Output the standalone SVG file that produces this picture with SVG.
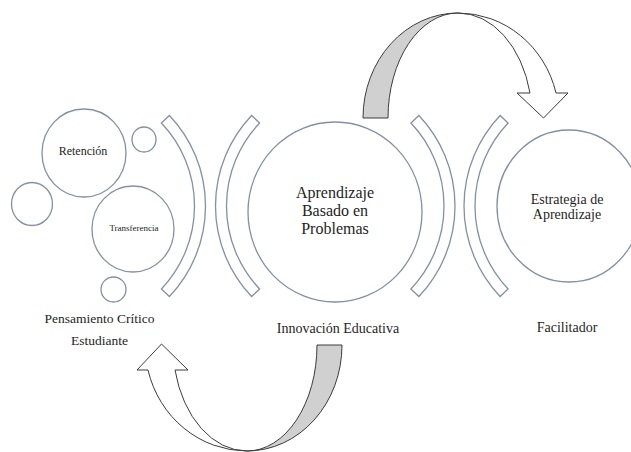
<svg xmlns="http://www.w3.org/2000/svg" width="631" height="452" viewBox="0 0 631 452">
<style>
.c{fill:#fff;stroke:#8390a3;stroke-width:1.3}
.b{fill:#fff;stroke:#8390a3;stroke-width:1.3;stroke-linejoin:miter}
text{font-family:'Liberation Serif','Times New Roman','DejaVu Serif',serif;fill:#1e1e1e;text-anchor:middle}
.aw{fill:#fff;stroke:#3c3c3c;stroke-width:1;stroke-linejoin:miter}
.ag{fill:#d0d0d0;stroke:#3c3c3c;stroke-width:1}
</style>
<rect width="631" height="452" fill="#fff"/>

<g id="brackets">
<path class="b" d="M169.39 115.48 A131.5 131.5 0 0 1 169.39 296.52 L161.41 288.95 A120.5 120.5 0 0 0 161.41 123.05 Z"/>
<path class="b" d="M251.61 115.48 A131.5 131.5 0 0 0 251.61 296.52 L259.59 288.95 A120.5 120.5 0 0 1 259.59 123.05 Z"/>
<path class="b" d="M418.89 115.48 A131.5 131.5 0 0 1 418.89 296.52 L410.91 288.95 A120.5 120.5 0 0 0 410.91 123.05 Z"/>
<path class="b" d="M500.11 115.48 A131.5 131.5 0 0 0 500.11 296.52 L508.09 288.95 A120.5 120.5 0 0 1 508.09 123.05 Z"/>
</g>

<g id="node-small1"><ellipse class="c" cx="144" cy="139.5" rx="12" ry="12.5"/></g>
<g id="node-small2"><ellipse class="c" cx="32" cy="204" rx="20.5" ry="21.5"/></g>
<g id="node-small3"><ellipse class="c" cx="113.5" cy="289.5" rx="12.5" ry="12.5"/></g>

<g id="node-retencion" font-family="Liberation Serif, serif">
<ellipse class="c" cx="84" cy="153" rx="42" ry="44"/>
<text x="83" y="155" font-size="12">Retención</text>
</g>

<g id="node-transferencia" font-family="Liberation Serif, serif">
<ellipse class="c" cx="133" cy="229" rx="41" ry="43"/>
<text x="134" y="231" font-size="9">Transferencia</text>
</g>

<g id="node-pensamiento" font-family="Liberation Serif, serif">
<text x="99.5" y="323" font-size="13.5">Pensamiento Crítico</text>
<text x="99.5" y="345" font-size="13.5">Estudiante</text>
</g>

<g id="node-abp" font-family="Liberation Serif, serif">
<ellipse class="c" cx="335" cy="212" rx="87" ry="90"/>
<text x="335" y="198" font-size="16">Aprendizaje</text>
<text x="335" y="216" font-size="16">Basado en</text>
<text x="335" y="234" font-size="16">Problemas</text>
</g>

<g id="node-innovacion" font-family="Liberation Serif, serif">
<text x="338" y="333" font-size="14">Innovación Educativa</text>
</g>

<g id="node-estrategia" font-family="Liberation Serif, serif">
<ellipse class="c" cx="569" cy="206" rx="72" ry="76"/>
<text x="567" y="204" font-size="14">Estrategia de</text>
<text x="567" y="219" font-size="14">Aprendizaje</text>
</g>

<g id="node-facilitador" font-family="Liberation Serif, serif">
<text x="567" y="332" font-size="14">Facilitador</text>
</g>

<g id="connectors">
<path class="ag" d="M363 118 A95 105 0 0 1 458 13 A70 105 0 0 0 388 118 Z"/>
<path class="aw" d="M458 13 A101 105 0 0 1 556 93 L568 93 L543.5 118 L517 93 L530 93 A74 105 0 0 0 458 13 Z"/>
<path class="ag" d="M342 345 A95 106 0 0 1 247 451 A70 106 0 0 0 317 345 Z"/>
<path class="aw" d="M247 451 A102 106 0 0 1 148 370 L137 370 L161.5 344 L188 370 L175 370 A74 106 0 0 0 247 451 Z"/>
</g>
</svg>
